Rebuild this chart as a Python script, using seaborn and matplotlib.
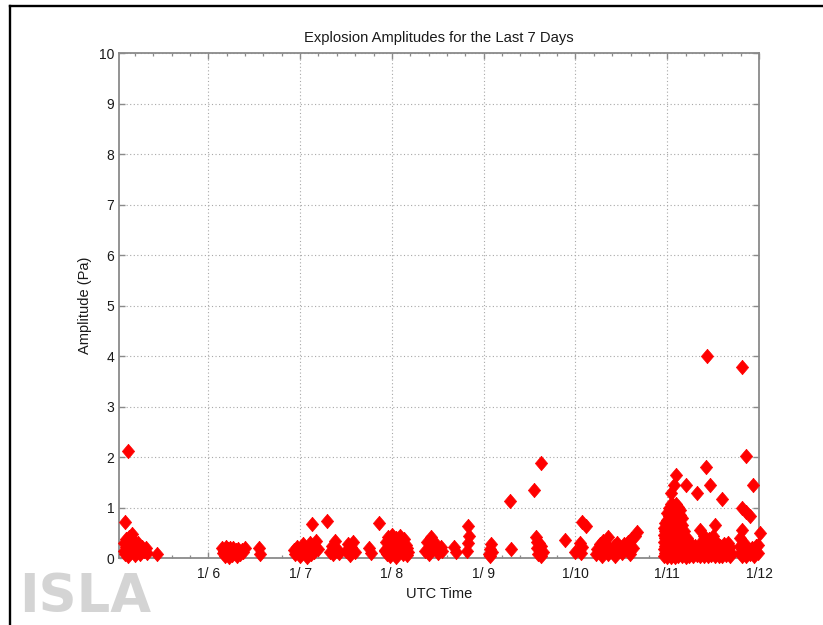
import matplotlib
matplotlib.use("Agg")
import matplotlib.pyplot as plt
from matplotlib.ticker import MultipleLocator, FixedLocator
from matplotlib.lines import Line2D
import pandas as pd
import seaborn as sns

# ---------------- data (day of January, fractional UTC day) ----------------
t_jan5 = [5.08, 5.085, 5.09, 5.093, 5.10, 5.105, 5.11, 5.12, 5.125, 5.129,
          5.13, 5.14, 5.15, 5.155, 5.16, 5.17, 5.18, 5.19, 5.20, 5.21,
          5.22, 5.23, 5.24, 5.26, 5.28, 5.30, 5.32, 5.33, 5.445]
a_jan5 = [0.15, 0.30, 0.08, 0.71, 0.22, 0.38, 0.12, 0.28, 0.05, 2.13,
          0.18, 0.42, 0.10, 0.30, 0.22, 0.48, 0.15, 0.35, 0.06, 0.25,
          0.12, 0.30, 0.18, 0.08, 0.22, 0.15, 0.20, 0.10, 0.09]

t_jan6 = [6.15, 6.16, 6.17, 6.18, 6.19, 6.20, 6.21, 6.22, 6.23, 6.24,
          6.25, 6.26, 6.27, 6.28, 6.30, 6.31, 6.32, 6.34, 6.35, 6.37,
          6.38, 6.40, 6.55, 6.56]
a_jan6 = [0.20, 0.10, 0.15, 0.05, 0.22, 0.12, 0.18, 0.08, 0.03, 0.20,
          0.14, 0.06, 0.21, 0.10, 0.16, 0.04, 0.19, 0.12, 0.08, 0.17,
          0.13, 0.20, 0.20, 0.08]

t_jan7 = [6.93, 6.95, 6.97, 6.99, 7.00, 7.02, 7.03, 7.05, 7.06, 7.08,
          7.09, 7.11, 7.12, 7.126, 7.14, 7.15, 7.17, 7.19, 7.29, 7.33,
          7.35, 7.36, 7.38, 7.40, 7.42, 7.50, 7.52, 7.54, 7.56, 7.58,
          7.60, 7.75, 7.77, 7.86, 7.92]
a_jan7 = [0.16, 0.08, 0.22, 0.12, 0.05, 0.18, 0.28, 0.10, 0.20, 0.03,
          0.15, 0.30, 0.08, 0.67, 0.22, 0.12, 0.35, 0.18, 0.74, 0.12,
          0.25, 0.08, 0.35, 0.18, 0.10, 0.15, 0.28, 0.06, 0.22, 0.32,
          0.12, 0.20, 0.10, 0.70, 0.16]

t_jan8 = [7.93, 7.94, 7.95, 7.96, 7.97, 7.98, 7.99, 8.00, 8.01, 8.02,
          8.03, 8.04, 8.05, 8.06, 8.07, 8.08, 8.09, 8.10, 8.11, 8.12,
          8.13, 8.14, 8.15, 8.16, 8.17, 8.18, 8.36, 8.38, 8.40, 8.42,
          8.43, 8.45, 8.47, 8.50, 8.53, 8.55, 8.68, 8.70, 8.82, 8.83,
          8.83, 8.84]
a_jan8 = [0.15, 0.32, 0.08, 0.42, 0.22, 0.05, 0.35, 0.46, 0.18, 0.28,
          0.10, 0.40, 0.02, 0.25, 0.34, 0.12, 0.45, 0.20, 0.30, 0.08,
          0.38, 0.16, 0.26, 0.06, 0.20, 0.12, 0.15, 0.32, 0.08, 0.25,
          0.42, 0.18, 0.30, 0.10, 0.22, 0.14, 0.23, 0.12, 0.15, 0.63,
          0.30, 0.45]

t_jan9 = [9.06, 9.07, 9.07, 9.08, 9.09, 9.29, 9.30, 9.55, 9.57, 9.58,
          9.58, 9.59, 9.60, 9.61, 9.62, 9.62, 9.63, 9.65, 9.89, 9.99]
a_jan9 = [0.08, 0.18, 0.04, 0.28, 0.12, 1.14, 0.18, 1.36, 0.42, 0.20,
          0.32, 0.08, 0.30, 0.15, 1.89, 0.05, 0.25, 0.12, 0.37, 0.12]

t_jan10 = [10.05, 10.06, 10.07, 10.07, 10.12, 10.22, 10.24, 10.26, 10.27, 10.29,
           10.30, 10.31, 10.33, 10.35, 10.36, 10.38, 10.40, 10.42, 10.43, 10.45,
           10.47, 10.49, 10.51, 10.53, 10.55, 10.57, 10.59, 10.61, 10.63, 10.65,
           10.67]
a_jan10 = [0.30, 0.10, 0.72, 0.22, 0.63, 0.08, 0.18, 0.12, 0.28, 0.05,
           0.35, 0.15, 0.22, 0.42, 0.08, 0.18, 0.12, 0.25, 0.04, 0.30,
           0.15, 0.22, 0.10, 0.28, 0.18, 0.32, 0.08, 0.38, 0.20, 0.45,
           0.52]

# 1/11 : one time per column of events, with the amplitudes in that column
t_jan11 = [10.96, 10.98, 11.00, 11.02, 11.04, 11.06, 11.07, 11.08, 11.10, 11.12,
           11.14, 11.16, 11.18, 11.20, 11.22, 11.24, 11.26, 11.28, 11.30, 11.32,
           11.34, 11.36, 11.38, 11.40, 11.42, 11.43, 11.44, 11.46, 11.47, 11.48,
           11.50, 11.52, 11.54, 11.56, 11.58, 11.60, 11.62, 11.64, 11.66, 11.68,
           11.70, 11.79, 11.81, 11.82, 11.84, 11.86, 11.88, 11.90, 11.92, 11.93,
           11.95, 11.97, 11.99, 12.01]
a_jan11 = [
    [0.04, 0.18, 0.32, 0.46, 0.60],
    [0.10, 0.25, 0.40, 0.55, 0.70],
    [0.03, 0.16, 0.30, 0.45, 0.60, 0.75, 0.90],
    [0.08, 0.22, 0.36, 0.52, 0.68, 0.84, 1.00],
    [0.02, 0.15, 0.30, 0.45, 0.60, 0.75, 0.92, 1.08, 1.30],
    [0.07, 0.20, 0.35, 0.50, 0.65, 0.80, 0.95, 1.05],
    [1.45],
    [0.03, 0.14, 0.28, 0.42, 0.58, 0.72, 0.88, 1.02],
    [0.10, 0.24, 0.38, 0.52, 0.66, 0.80, 0.94, 1.08, 1.65],
    [0.04, 0.18, 0.32, 0.48, 0.62, 0.76, 0.90, 1.02],
    [0.12, 0.26, 0.40, 0.55, 0.70, 0.85, 0.95],
    [0.05, 0.20, 0.35, 0.50, 0.65, 0.80],
    [0.10, 0.25, 0.40, 0.55],
    [0.03, 0.18, 0.32, 1.45],
    [0.08, 0.22, 0.40],
    [0.05, 0.20],
    [0.12, 0.28],
    [0.04, 0.18],
    [0.10, 0.25],
    [0.06, 1.29],
    [0.15],
    [0.05, 0.25, 0.56],
    [0.12, 0.35],
    [0.04, 0.20, 0.45],
    [0.10, 0.30, 1.80],
    [4.00],
    [0.05, 0.22],
    [0.14, 0.38],
    [1.45],
    [0.06, 0.25],
    [0.12, 0.45],
    [0.04, 0.20, 0.66],
    [0.10, 0.30],
    [0.05, 0.18],
    [0.12, 0.25],
    [0.04, 1.17],
    [0.15, 0.28],
    [0.06, 0.20],
    [0.12, 0.30],
    [0.05, 0.22],
    [0.10],
    [0.10, 0.25, 0.40],
    [0.05, 0.18, 0.56],
    [0.99, 3.78],
    [0.10, 0.30],
    [0.05, 0.92, 2.02],
    [0.15],
    [0.08, 0.83],
    [0.20],
    [1.45],
    [0.05, 0.12],
    [0.25],
    [0.10, 0.26],
    [0.51],
]

x_tick_pos = [6, 7, 8, 9, 10, 11, 12]
x_tick_labels = ["1/ 6", "1/ 7", "1/ 8", "1/ 9", "1/10", "1/11", "1/12"]
y_ticks = [0, 1, 2, 3, 4, 5, 6, 7, 8, 9, 10]

# ---------------- assemble table ----------------
times = t_jan5 + t_jan6 + t_jan7 + t_jan8 + t_jan9 + t_jan10
amps = a_jan5 + a_jan6 + a_jan7 + a_jan8 + a_jan9 + a_jan10
for tc, col in zip(t_jan11, a_jan11):
    for v in col:
        times.append(tc)
        amps.append(v)
df = pd.DataFrame({"UTC Time": times, "Amplitude (Pa)": amps})

# ---------------- style ----------------
plt.rcParams['font.family'] = ['Liberation Sans', 'DejaVu Sans']

fig = plt.figure(figsize=(8.23, 6.25), dpi=100)
fig.patch.set_facecolor("white")
ax = fig.add_axes([119 / 823, 1 - 558.3 / 625, 640 / 823, 505 / 625])

diamond = [(0, 1), (0.85, 0), (0, -1), (-0.85, 0), (0, 1)]
sns.scatterplot(data=df, x="UTC Time", y="Amplitude (Pa)", marker=diamond, s=108,
                color="#ff0000", edgecolor="#ff0000", linewidth=0.5,
                ax=ax, legend=False, clip_on=False, zorder=3)

ax.set_xlim(5.027, 12.0)
ax.set_ylim(0, 10)
ax.xaxis.set_major_locator(FixedLocator(x_tick_pos))
ax.set_xticks(x_tick_pos)
ax.set_xticklabels(x_tick_labels)
ax.xaxis.set_minor_locator(MultipleLocator(0.2))
ax.set_yticks(y_ticks)

spine_col = "#8a8a8a"
for sp in ax.spines.values():
    sp.set_color(spine_col)
    sp.set_linewidth(1.3)
    sp.set_visible(True)

ax.tick_params(which="both", direction="in", top=True, right=True,
               color=spine_col, labelcolor="#1a1a1a", labelsize=10)
ax.tick_params(axis="x", which="major", length=4, width=1.0, pad=6.5)
ax.tick_params(axis="x", which="minor", length=2.2, width=0.9)
ax.tick_params(axis="y", which="major", length=4, width=1.0, pad=3.5)

ax.grid(True, which="major", linestyle=(0, (1, 2.2)), color="#a8a8a8", linewidth=0.8)
ax.set_axisbelow(True)

ax.set_title("Explosion Amplitudes for the Last 7 Days", fontsize=10.6,
             color="#1a1a1a", pad=8)
ax.set_xlabel("UTC Time", fontsize=10.5, color="#1a1a1a", labelpad=4)
ax.set_ylabel("Amplitude (Pa)", fontsize=10.5, color="#1a1a1a", labelpad=5)

# outer frame (left and top edges)
fig.add_artist(Line2D([10.2 / 823, 10.2 / 823], [0, 1 - 5.8 / 625],
                      transform=fig.transFigure, color="black", lw=1.7))
fig.add_artist(Line2D([10.2 / 823, 1], [1 - 5.8 / 625, 1 - 5.8 / 625],
                      transform=fig.transFigure, color="black", lw=1.7))

# faint logo
fig.text(19 / 823, 13 / 625, "ISLA", fontsize=38, fontweight="bold",
         family="DejaVu Sans", color="#d4d4d4", ha="left", va="baseline")

fig.savefig("out.png", dpi=100, facecolor="white")
